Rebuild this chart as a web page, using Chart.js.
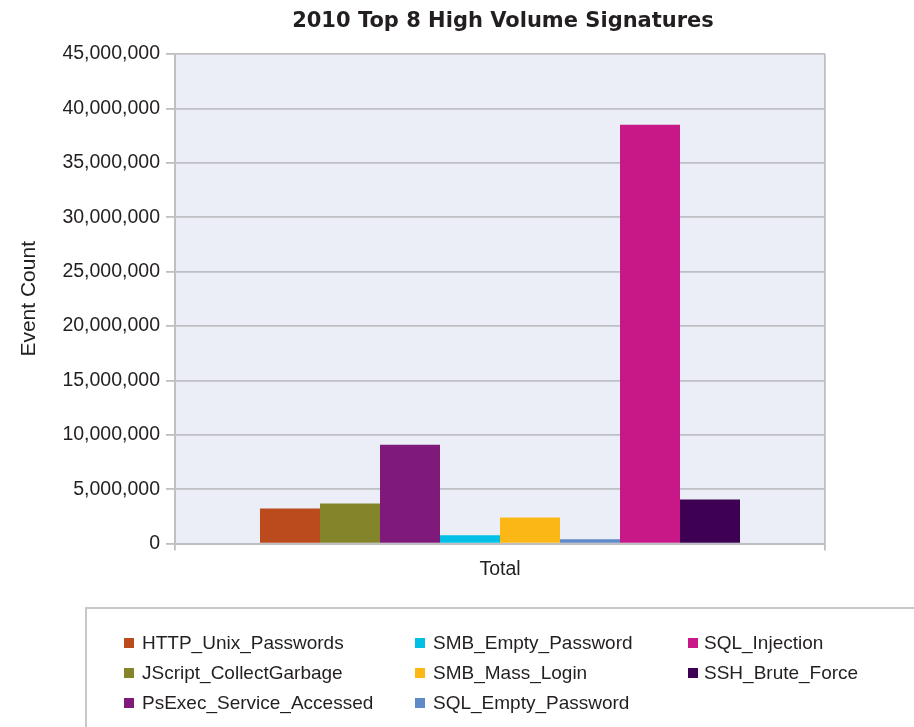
<!DOCTYPE html>
<html>
<head>
<meta charset="utf-8">
<title>2010 Top 8 High Volume Signatures</title>
<script src="https://cdn.jsdelivr.net/npm/chart.js@4/dist/chart.umd.min.js"></script>
<style>
  html, body { margin: 0; padding: 0; background: #ffffff; }
  #wrap { position: relative; width: 914px; height: 727px; overflow: hidden; }
  #chart { position: absolute; left: 0; top: 0; }
  #legend {
    position: absolute; left: 85px; top: 607px; width: 840px; height: 140px;
    border: 2px solid #c8c8c8; box-sizing: border-box;
    font-family: "Liberation Sans", Arial, sans-serif; font-size: 19px; color: #231f20;
  }
  .item { position: absolute; white-space: nowrap; line-height: 22px; }
  .swatch { position: absolute; width: 10px; height: 10px; top: 6px; }
</style>
</head>
<body>
<div id="wrap">
  <canvas id="chart" width="914" height="727"></canvas>
  <div id="legend"></div>
</div>
<script>
// Chart content
const chartTitle = '2010 Top 8 High Volume Signatures';
const categories = ['Total'];
const signatures = [
  'HTTP_Unix_Passwords',
  'JScript_CollectGarbage',
  'PsExec_Service_Accessed',
  'SMB_Empty_Password',
  'SMB_Mass_Login',
  'SQL_Empty_Password',
  'SQL_Injection',
  'SSH_Brute_Force'
];
const eventCounts = [3230000, 3690000, 9090000, 760000, 2410000, 390000, 38500000, 4060000];
const seriesColors = ['#bb4a1c', '#84842b', '#7f1a7a', '#00c0e6', '#fbb715', '#5f8ac8', '#c81887', '#3e0053'];
const yTickValues = [0, 5000000, 10000000, 15000000, 20000000, 25000000, 30000000, 35000000, 40000000, 45000000];
const yAxisTitle = 'Event Count';

const FONT = '"Liberation Sans", Arial, sans-serif';
const TEXT = '#231f20';
const GRID = '#bfbfc4';

// Title centred over the plot area and a tinted plot background
const plotDecor = {
  id: 'plotDecor',
  beforeDraw(chart) {
    const { ctx, chartArea: a } = chart;
    ctx.save();
    ctx.fillStyle = '#ebeef7';
    ctx.fillRect(a.left, a.top, a.right - a.left, a.bottom - a.top);
    ctx.restore();
  },
  afterDraw(chart) {
    const { ctx, chartArea: a } = chart;
    ctx.save();
    ctx.font = 'bold 21px "DejaVu Sans", sans-serif';
    ctx.fillStyle = TEXT;
    ctx.textAlign = 'center';
    ctx.textBaseline = 'alphabetic';
    ctx.fillText(chartTitle, (a.left + a.right) / 2 + 3, 27);
    ctx.restore();
  }
};

const datasets = signatures.map((name, i) => ({
  label: name,
  data: [eventCounts[i]],
  backgroundColor: seriesColors[i],
  borderWidth: 0,
  barPercentage: 1,
  categoryPercentage: 0.7385
}));

new Chart(document.getElementById('chart'), {
  type: 'bar',
  data: { labels: categories, datasets },
  plugins: [plotDecor],
  options: {
    responsive: false,
    animation: false,
    layout: { padding: { top: 54, left: 17, right: 89, bottom: 139 } },
    plugins: { legend: { display: false }, title: { display: false }, tooltip: { enabled: false } },
    scales: {
      x: {
        offset: true,
        grid: { offset: true, color: GRID, lineWidth: 1.8, tickLength: 7, drawOnChartArea: true },
        border: { color: GRID, width: 2 },
        ticks: { color: TEXT, font: { family: FONT, size: 19.5 }, padding: 7 }
      },
      y: {
        min: 0,
        max: 45000000,
        afterBuildTicks(scale) { scale.ticks = yTickValues.map(v => ({ value: v })); },
        afterFit(scale) { scale.width = 158; },
        grid: { color: GRID, lineWidth: 1.8, tickLength: 9 },
        border: { color: GRID, width: 2 },
        ticks: {
          color: TEXT,
          font: { family: FONT, size: 19.5 },
          padding: 6,
          callback: v => Number(v).toLocaleString('en-US')
        },
        title: {
          display: true,
          text: yAxisTitle,
          color: TEXT,
          font: { family: FONT, size: 21 },
          padding: { top: 0, bottom: 0 }
        }
      }
    }
  }
});

// Legend: three columns, filled top to bottom
const legendCols = [{ sw: 37, tx: 55 }, { sw: 328, tx: 346 }, { sw: 601, tx: 617 }];
const legendRowTops = [23, 53, 83];
const legendEl = document.getElementById('legend');
signatures.forEach((name, i) => {
  const col = legendCols[Math.floor(i / 3)];
  const top = legendRowTops[i % 3];
  const sw = document.createElement('div');
  sw.className = 'swatch';
  sw.style.left = col.sw + 'px';
  sw.style.top = (top + 6) + 'px';
  sw.style.background = seriesColors[i];
  legendEl.appendChild(sw);
  const tx = document.createElement('div');
  tx.className = 'item';
  tx.style.left = col.tx + 'px';
  tx.style.top = top + 'px';
  tx.textContent = name;
  legendEl.appendChild(tx);
});
</script>
</body>
</html>
